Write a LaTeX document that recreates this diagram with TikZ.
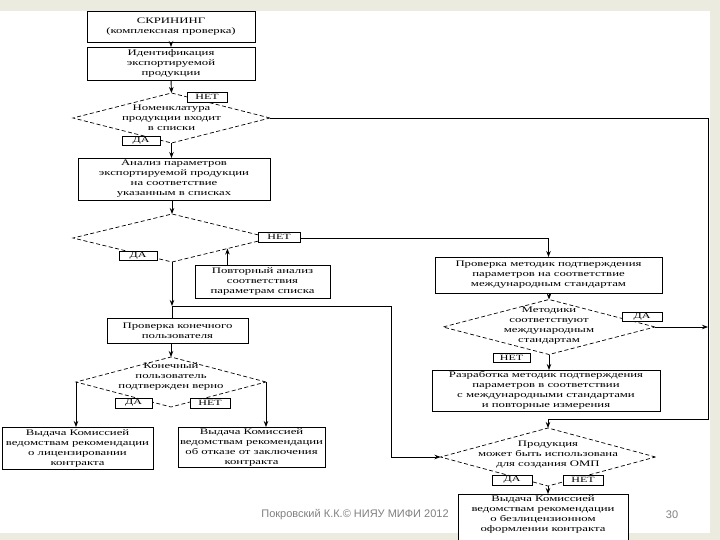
\documentclass[tikz,border=0pt]{standalone}
\usepackage{fontspec}
\usetikzlibrary{shapes.geometric,arrows.meta,calc}
\newfontfamily\dfont[FakeStretch=1.5]{Liberation Serif}
\newfontfamily\ffont{Liberation Sans}
\definecolor{bandc}{RGB}{235,235,224}
\definecolor{footc}{RGB}{128,128,128}
\tikzset{
 box/.style={draw, line width=0.9pt, fill=white, inner sep=0pt, outer sep=0pt, align=center, font=\dfont\fontsize{8.5}{10}\selectfont},
 dia/.style={draw, dash pattern=on 4pt off 2.5pt, line width=0.7pt, shape=diamond, inner sep=0pt, outer sep=0pt},
 dtext/.style={align=center, inner sep=0pt, font=\dfont\fontsize{8.5}{10}\selectfont},
 lab/.style={draw, line width=0.7pt, fill=white, inner sep=0pt, outer sep=0pt, font=\dfont\fontsize{8}{9}\selectfont},
 arr/.style={-{Stealth[length=6pt,width=4.5pt]}, line width=0.9pt},
 conn/.style={line width=0.8pt},
 foottext/.style={font=\ffont\fontsize{11}{13}\selectfont, text=footc, inner sep=0pt},
}
\begin{document}
\begin{tikzpicture}[x=1pt,y=-1pt]
\useasboundingbox (0,0) rectangle (720,540);
\clip (0,0) rectangle (720,540);
\fill[white] (0,0) rectangle (720,540);
\fill[bandc] (0,0) rectangle (720,11);
\fill[bandc] (710,0) rectangle (720,540);
\fill[bandc] (0,533) rectangle (720,540);

% boxes
\node[box, minimum width=168pt, minimum height=31pt] (s1) at (171,26.5) {СКРИНИНГ\\(комплексная проверка)};
\node[box, minimum width=168pt, minimum height=33pt] (s2) at (171,63.5) {Идентификация\\экспортируемой\\продукции};
\node[box, minimum width=192pt, minimum height=42pt] (s3) at (174,179) {Анализ параметров\\экспортируемой продукции\\на соответствие\\указанным в списках};
\node[box, minimum width=135pt, minimum height=33pt] (s6) at (262.5,281.5) {Повторный анализ\\соответствия\\параметрам списка};
\node[box, minimum width=141pt, minimum height=25pt] (s5) at (177.5,330.5) {Проверка конечного\\пользователя};
\node[box, minimum width=151pt, minimum height=42pt] (s7) at (77.5,448) {Выдача Комиссией\\ведомствам рекомендации\\о лицензировании\\контракта};
\node[box, minimum width=147pt, minimum height=40pt] (s8) at (251.5,447) {Выдача Комиссией\\ведомствам рекомендации\\об отказе от заключения\\контракта};
\node[box, minimum width=227pt, minimum height=36pt] (s4) at (548.5,275) {Проверка методик подтверждения\\параметров на соответствие\\международным стандартам};
\node[box, minimum width=228pt, minimum height=41pt] (s9) at (546,390.5) {Разработка методик подтверждения\\параметров в соответствии\\с международными стандартами\\и повторные измерения};
\node[box, minimum width=170pt, minimum height=52pt, anchor=north] (s10) at (543,494) {};
\node[dtext] (s10t) at (543,514) {Выдача Комиссией\\ведомствам рекомендации\\о безлицензионном\\оформлении контракта};

% diamonds
\node[dia, minimum width=197pt, minimum height=50pt] (d1) at (171.5,118) {};
\node[dtext] (d1t) at (171.5,118) {Номенклатура\\продукции входит\\в списки};
\node[dia, minimum width=198pt, minimum height=48pt] (d2) at (172,238) {};
\node[dia, minimum width=190pt, minimum height=50pt] (d3) at (171,382) {};
\node[dtext] (d3t) at (171,376) {Конечный\\пользователь\\подтвержден верно};
\node[dia, minimum width=212pt, minimum height=55pt] (d4) at (549,327) {};
\node[dtext] (d4t) at (549,326) {Методики\\соответствуют\\международным\\стандартам};
\node[dia, minimum width=215pt, minimum height=58pt] (d5) at (548,457) {};
\node[dtext] (d5t) at (548,455) {Продукция\\может быть использована\\для создания ОМП};

% coordinates
\coordinate (r2) at (708,419);
\coordinate (j1) at (172,306);
\coordinate (j2) at (391,306);
\coordinate (d2e) at ($(d2.south)!0.56!(d2.east)$);

% connectors
\draw[arr] (s1.south) -- (s2.north);
\draw[arr] (s2.south) -- (d1.north);
\draw[arr, line width=0.8pt] (d1.east) -| (r2) -| (d5.north);
\draw[arr] (d1.south) -- (d1.south |- s3.north);
\draw[arr] (d2.north |- s3.south) -- (d2.north);
\draw[arr, line width=0.8pt] (d2.east) -| (s4.north);
\draw[arr] (d2.south) -- (j1);
\draw[conn] (j1) -- (d2.south |- s5.north);
\draw[arr, line width=0.8pt] (j1) -- (j2) |- (d5.west);
\draw[arr] (s6.north -| d2e) -- (d2e);
\draw[arr] (d3.north |- s5.south) -- (d3.north);
\draw[arr] (d3.west) -- (d3.west |- s7.north);
\draw[arr] (d3.east) -- (d3.east |- s8.north);
\draw[arr] (d4.north |- s4.south) -- (d4.north);
\draw[arr, line width=0.8pt] (d4.east) -- (d4.east -| r2);
\draw[arr] (d4.south) -- (d4.south |- s9.north);
\draw[arr] (d5.south) -- (d5.south |- s10.north);

% labels
\node[lab, minimum width=40pt, minimum height=10pt] (l1) at (207,97) {НЕТ};
\node[lab, minimum width=38pt, minimum height=9pt] (l2) at (141,141) {ДА};
\node[lab, minimum width=42pt, minimum height=10pt] (l3) at (279,237) {НЕТ};
\node[lab, minimum width=38pt, minimum height=9pt] (l4) at (138,255.5) {ДА};
\node[lab, minimum width=37pt, minimum height=10pt] (l5) at (133.5,403) {ДА};
\node[lab, minimum width=40pt, minimum height=10pt] (l6) at (210,403) {НЕТ};
\node[lab, minimum width=40pt, minimum height=9pt] (l7) at (642,317) {ДА};
\node[lab, minimum width=37pt, minimum height=9pt] (l8) at (511.5,357.5) {НЕТ};
\node[lab, minimum width=40pt, minimum height=10pt] (l9) at (512,480) {ДА};
\node[lab, minimum width=40pt, minimum height=10pt] (l10) at (583,480) {НЕТ};

% footer
\node[foottext] (foot) at (355,515) {Покровский К.К.© НИЯУ МИФИ 2012};
\node[foottext] (page) at (672,515) {30};
\end{tikzpicture}
\end{document}
